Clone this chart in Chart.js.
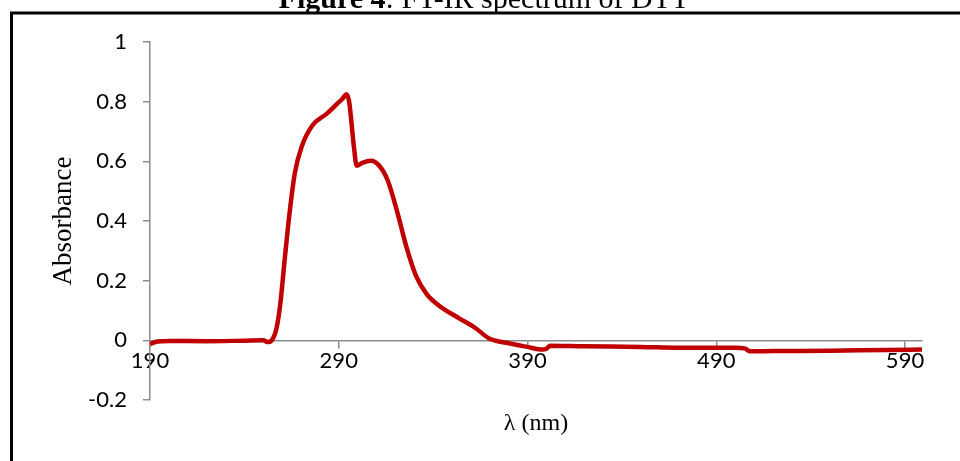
<!DOCTYPE html>
<html>
<head>
    <title>Figure 4</title>
    <script src="https://cdn.jsdelivr.net/npm/chart.js"></script>
    <style>
        html, body { margin: 0; padding: 0; background: #fff; }
        .chart-container { position: relative; width: 960px; height: 461px; }
    </style>
</head>
<body>
    <div class="chart-container">
        <canvas id="specChart" width="960" height="461"></canvas>
    </div>

    <script>
        // wavelength (nm) and absorbance
        const wavelength = [190, 194, 200, 220, 240, 250, 252.5, 254.5, 257, 259, 261.5, 264, 266.7, 270.4, 276, 283.7,
            289.5, 292, 294, 295.5, 298, 299.5, 302.5, 307, 311.5, 316, 321, 326, 331, 336.6, 343, 354, 362, 370,
            380, 390, 398, 400, 402, 420, 450, 470, 500, 505, 508, 520, 550, 580, 599];
        const absorbance = [-0.012, -0.004, -0.002, -0.003, -0.001, 0.0, -0.006, 0.0, 0.04, 0.12, 0.28, 0.43, 0.56, 0.65, 0.72, 0.76,
            0.795, 0.81, 0.825, 0.80, 0.65, 0.585, 0.595, 0.602, 0.585, 0.535, 0.43, 0.31, 0.215, 0.155, 0.117, 0.073, 0.043, 0.005,
            -0.01, -0.022, -0.031, -0.028, -0.018, -0.02, -0.022, -0.025, -0.025, -0.027, -0.037, -0.036, -0.035, -0.032, -0.031];
        const xTicks = [190, 290, 390, 490, 590];
        const yTicks = [-0.2, 0, 0.2, 0.4, 0.6, 0.8, 1];

        const axisGray = '#8c8c8c';
        const tickFont = { family: 'Lato', size: 22 };

        // frame and the clipped caption at the very top
        const framePlugin = {
            id: 'frame',
            afterDraw(chart) {
                const ctx = chart.ctx;
                ctx.save();
                ctx.fillStyle = '#000';
                ctx.textBaseline = 'alphabetic';
                ctx.font = 'bold 30px "Liberation Serif"';
                const boldPart = 'Figure 4';
                const restPart = ': FT-IR spectrum of DTT';
                const w1 = ctx.measureText(boldPart).width;
                ctx.font = '30px "Liberation Serif"';
                const w2 = ctx.measureText(restPart).width;
                const startX = 484 - (w1 + w2) / 2;
                ctx.font = 'bold 30px "Liberation Serif"';
                ctx.fillText(boldPart, startX, 8);
                ctx.font = '30px "Liberation Serif"';
                ctx.fillText(restPart, startX + w1, 8);

                ctx.strokeStyle = '#000';
                ctx.lineWidth = 3;
                ctx.beginPath();
                ctx.moveTo(11.5, 461);
                ctx.lineTo(11.5, 13);
                ctx.lineTo(960, 13);
                ctx.stroke();
                ctx.restore();
            }
        };

        const ctx = document.getElementById('specChart').getContext('2d');
        new Chart(ctx, {
            type: 'line',
            data: {
                datasets: [{
                    data: wavelength.map((x, i) => ({ x: x, y: absorbance[i] })),
                    borderColor: '#c00000',
                    borderWidth: 4.5,
                    pointRadius: 0,
                    cubicInterpolationMode: 'monotone',
                    fill: false
                }]
            },
            options: {
                responsive: false,
                animation: false,
                layout: { padding: { left: 0, top: 42, right: 38, bottom: 61 } },
                plugins: {
                    legend: { display: false },
                    tooltip: { enabled: false }
                },
                scales: {
                    x: {
                        type: 'linear',
                        position: { y: 0 },
                        min: 190,
                        max: 599,
                        afterBuildTicks(scale) {
                            scale.ticks = xTicks.map(v => ({ value: v }));
                        },
                        grid: { drawOnChartArea: false, drawTicks: true, tickLength: 7, color: axisGray, lineWidth: 1.5 },
                        border: { color: axisGray, width: 1.5 },
                        ticks: { color: '#000', font: tickFont, padding: 0, maxRotation: 0 },
                        title: {
                            display: true,
                            text: 'λ (nm)',
                            color: '#000',
                            font: { family: 'Liberation Serif', size: 24 },
                            padding: { top: 36 }
                        }
                    },
                    y: {
                        min: -0.2,
                        max: 1,
                        afterBuildTicks(scale) {
                            scale.ticks = yTicks.map(v => ({ value: v }));
                        },
                        afterFit(scale) {
                            scale.width = 150;
                        },
                        grid: { drawOnChartArea: false, drawTicks: true, tickLength: 7, color: axisGray, lineWidth: 1.5 },
                        border: { color: axisGray, width: 1.5 },
                        ticks: {
                            color: '#000',
                            font: tickFont,
                            padding: 16,
                            callback: v => String(Math.round(v * 10) / 10)
                        },
                        title: {
                            display: true,
                            text: 'Absorbance',
                            color: '#000',
                            font: { family: 'Liberation Serif', size: 27 },
                            padding: { top: 48, bottom: 0 }
                        }
                    }
                }
            },
            plugins: [framePlugin]
        });
    </script>
</body>
</html>
